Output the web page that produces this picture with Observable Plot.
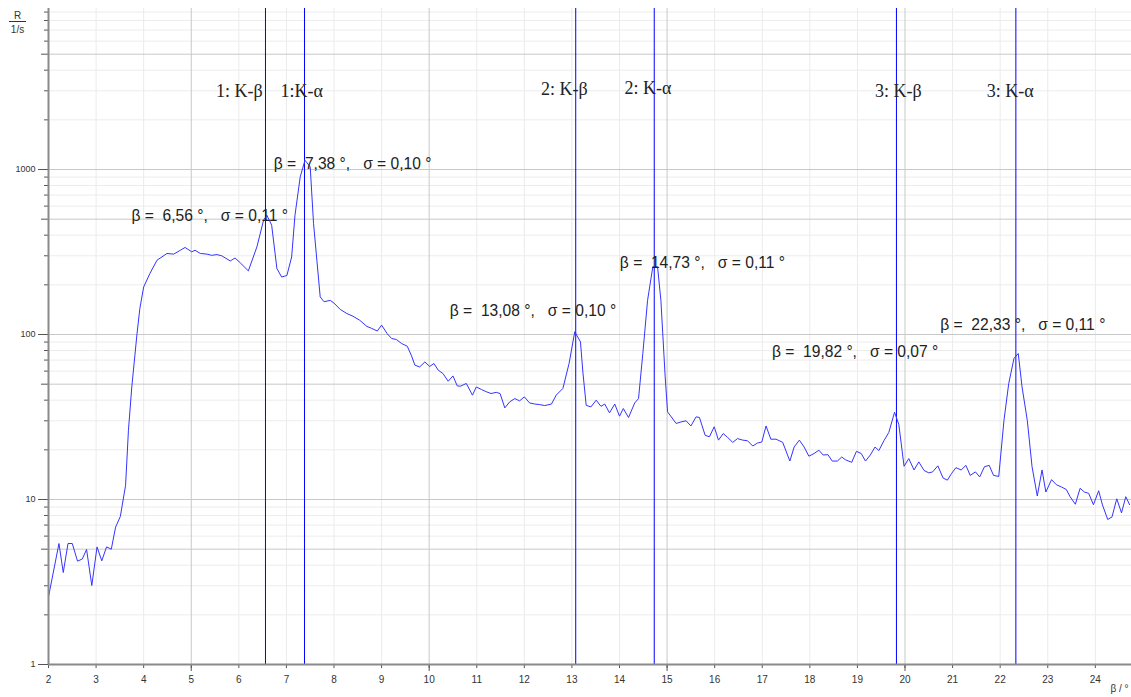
<!DOCTYPE html>
<html>
<head>
<meta charset="utf-8">
<script src="https://cdn.jsdelivr.net/npm/d3@7"></script>
<script src="https://cdn.jsdelivr.net/npm/@observablehq/plot@0.6"></script>
<style>
  html, body { margin: 0; padding: 0; background: #fff; }
  #chart svg { display: block; }
</style>
</head>
<body>
<div id="chart"></div>
<script>
// Measured spectrum: glancing angle β (°) and counting rate R (1/s)
const betaDeg = [2.00, 2.22, 2.31, 2.41, 2.50, 2.61, 2.71, 2.80, 2.91, 3.02, 3.12, 3.22, 3.32, 3.41, 3.51, 3.62,
  3.68, 3.75, 3.86, 3.92, 4.00, 4.13, 4.28, 4.49, 4.63, 4.77, 4.87, 5.01, 5.08, 5.19, 5.33, 5.43, 5.54, 5.64,
  5.82, 5.92, 6.03, 6.20, 6.38, 6.52, 6.59, 6.69, 6.80, 6.90, 7.01, 7.11, 7.18, 7.29, 7.39, 7.50, 7.57, 7.64,
  7.71, 7.79, 7.92, 8.00, 8.13, 8.27, 8.40, 8.54, 8.69, 8.79, 8.91, 9.00, 9.12, 9.21, 9.31, 9.42, 9.54, 9.63,
  9.70, 9.80, 9.91, 10.01, 10.10, 10.19, 10.29, 10.40, 10.50, 10.59, 10.66, 10.78, 10.91, 10.99, 11.10, 11.20,
  11.30, 11.41, 11.49, 11.59, 11.69, 11.80, 11.90, 12.00, 12.11, 12.22, 12.32, 12.43, 12.57, 12.67, 12.81, 12.94,
  13.06, 13.18, 13.23, 13.30, 13.40, 13.51, 13.61, 13.69, 13.79, 13.90, 14.00, 14.08, 14.19, 14.32, 14.40, 14.49,
  14.59, 14.70, 14.80, 14.87, 14.96, 15.01, 15.19, 15.29, 15.40, 15.50, 15.61, 15.68, 15.80, 15.89, 15.99, 16.08,
  16.18, 16.27, 16.38, 16.48, 16.59, 16.69, 16.80, 16.90, 16.99, 17.08, 17.18, 17.29, 17.43, 17.58, 17.67, 17.78,
  17.88, 17.98, 18.09, 18.19, 18.28, 18.38, 18.47, 18.58, 18.67, 18.75, 18.88, 18.98, 19.08, 19.17, 19.27, 19.37,
  19.45, 19.56, 19.66, 19.78, 19.87, 19.98, 20.08, 20.19, 20.29, 20.40, 20.50, 20.58, 20.69, 20.80, 20.89, 20.98,
  21.07, 21.18, 21.28, 21.37, 21.48, 21.57, 21.67, 21.77, 21.86, 21.97, 22.08, 22.18, 22.29, 22.38, 22.46, 22.57,
  22.67, 22.78, 22.88, 22.96, 23.08, 23.18, 23.29, 23.39, 23.47, 23.58, 23.68, 23.77, 23.86, 23.96, 24.07, 24.15,
  24.26, 24.35, 24.45, 24.55, 24.64, 24.72];
const rate = [2.57, 5.41, 3.61, 5.41, 5.41, 4.23, 4.36, 4.98, 3.01, 5.16, 4.25, 5.16, 5.0, 6.8, 7.9, 12.2,
  26.3, 48, 101, 144, 194, 234, 282, 310, 307, 324, 337, 317, 324, 310, 307, 302, 305, 300,
  279, 291, 272, 243, 340, 493, 528, 460, 251, 223, 228, 295, 528, 902, 1138, 1037, 471, 282,
  169, 158, 161, 155, 142, 134, 129, 122, 112, 109, 105, 114, 101, 94.6, 93.3, 88.2, 84.9, 74.2,
  65.2, 63.6, 68.2, 64, 66.7, 60.8, 58, 52.1, 56.1, 48.8, 48.6, 50.5, 42.9, 48.1, 46.4, 45,
  43.9, 44.6, 43.9, 35.9, 39, 40.9, 39.6, 41.9, 38.5, 37.9, 37.6, 37.1, 37.9, 42.9, 47.1, 66.7,
  104, 90.2, 59.3, 37.2, 36.4, 40, 36.7, 37.9, 33.5, 37.9, 32, 35.6, 31.4, 38.5, 40.9, 76.7,
  161, 257, 257, 161, 55.3, 34, 28.9, 29.5, 30, 27.9, 31.7, 31.4, 24.5, 24, 27.6, 22.9,
  25.1, 23.8, 22.2, 23.4, 22.9, 22.7, 21.1, 22, 22.3, 27.9, 23.2, 23.2, 22.2, 17.1, 20.8, 22.9,
  20.8, 18.3, 19, 19.9, 18.6, 18.7, 17.1, 17.1, 18.1, 17.4, 16.8, 19.6, 19, 17.1, 18.6, 20.8,
  19.8, 22.8, 25.5, 33.8, 28.5, 15.9, 17.7, 15.1, 16.9, 15, 14.5, 14.7, 16, 13.5, 13.1, 14.4,
  15.6, 15.1, 16.1, 14, 14.7, 13.7, 15.8, 16.1, 14, 13.8, 30.2, 50.5, 71.6, 76.7, 48.1, 30.2,
  15.8, 10.5, 15.1, 11.1, 13.2, 12.3, 11.9, 11.5, 10.4, 9.36, 11.7, 11.1, 10.9, 9.3, 11.3, 9.27,
  7.57, 7.84, 10.1, 8.3, 10.4, 9.3];

// Fitted peaks
const peakBeta = [6.56, 7.38, 13.08, 14.73, 19.82, 22.33];
const peakSigma = [0.11, 0.10, 0.10, 0.11, 0.07, 0.11];
const annotBeta = [3.744, 6.735, 10.434, 14.007, 17.204, 20.74];
const annotRate = [521, 1087, 139, 272, 78.5, 114];

// Line labels
const lineLabels = ["1: K-β", "1:K-α", "2: K-β", "2: K-α", "3: K-β", "3: K-α"];
const lineLabelBeta = [6.01, 7.32, 12.84, 14.60, 19.86, 22.21];
const lineLabelRate = [2980, 2980, 3045, 3130, 2990, 2990];

// Ticks / grid
const xTicks = [2, 3, 4, 5, 6, 7, 8, 9, 10, 11, 12, 13, 14, 15, 16, 17, 18, 19, 20, 21, 22, 23, 24];
const xMajor = [5, 10, 15, 20];
const yTickLabels = [1, 10, 100, 1000];
const yHalf = [5, 50, 500, 5000];
const yMinor = [2, 3, 4, 6, 7, 8, 9, 20, 30, 40, 60, 70, 80, 90, 200, 300, 400, 600, 700, 800, 900,
  2000, 3000, 4000, 6000, 7000, 8000, 9000];

const nb = "\u00A0";
const fmt = v => v.toFixed(2).replace(".", ",");
const peaks = peakBeta.map((b, i) => ({
  x: annotBeta[i], y: annotRate[i],
  text: `β =${nb}${nb}${fmt(b)}${nb}°,${nb}${nb}${nb}σ${nb}=${nb}${fmt(peakSigma[i])}${nb}°`
}));
const labels = lineLabels.map((t, i) => ({ t, x: lineLabelBeta[i], y: lineLabelRate[i] }));
const series = betaDeg.map((b, i) => ({ b, r: rate[i] }));

const chart = Plot.plot({
  width: 1131,
  height: 697,
  marginLeft: 48,
  marginRight: 0,
  marginTop: 8,
  marginBottom: 33,
  style: { fontFamily: "Liberation Sans, Arial, sans-serif", background: "#fff", color: "#333" },
  x: { domain: [2, 24.76] },
  y: { type: "log", domain: [1, 9460] },
  marks: [
    // grid
    Plot.ruleX(xTicks.filter(d => !xMajor.includes(d)), { stroke: "#ebebeb" }),
    Plot.ruleY(yMinor, { stroke: "#ececec" }),
    Plot.ruleX(xMajor, { stroke: "#c8c8c8" }),
    Plot.ruleY(yHalf.concat([10, 100, 1000]), { stroke: "#c8c8c8" }),
    // axes
    Plot.axisX(xTicks, { tickSize: 4, tickPadding: 7, fontSize: 10, stroke: "#555", fill: "#333", label: null, tickFormat: d => String(d) }),
    Plot.axisX(xMajor, { tickSize: 7, stroke: "#555", label: null, tickFormat: () => "" }),
    Plot.axisY(yTickLabels, { tickSize: 10, tickPadding: 3, fontSize: 9, stroke: "#555", fill: "#333", label: null, tickFormat: d => String(d) }),
    Plot.axisY(yHalf, { tickSize: 7, stroke: "#555", label: null, tickFormat: () => "" }),
    Plot.axisY(yMinor, { tickSize: 4, stroke: "#555", label: null, tickFormat: () => "" }),
    // peak positions
    Plot.ruleX(peakBeta, { stroke: "#0000ff", strokeWidth: 1 }),
    // spectrum
    Plot.line(series, { x: "b", y: "r", stroke: "#3434ff", strokeWidth: 1 }),
    // axis frame lines
    Plot.ruleX([2], { stroke: "#8a8a8a", strokeWidth: 2 }),
    Plot.ruleY([1], { stroke: "#8a8a8a", strokeWidth: 2 }),
    // annotations
    Plot.text(peaks, { x: "x", y: "y", text: "text", textAnchor: "start", fontSize: 15.6, fill: "#222" }),
    Plot.text(labels, { x: "x", y: "y", text: "t", textAnchor: "middle", fontSize: 18,
      fontFamily: "Liberation Serif, DejaVu Serif, serif", fill: "#222" }),
    // axis titles
    Plot.text(["β / °"], { frameAnchor: "bottom-right", dx: -3, dy: 27, textAnchor: "end", fontSize: 10, fill: "#333" }),
    Plot.text(["R"], { frameAnchor: "top-left", dx: -31, dy: 7, lineAnchor: "middle", textAnchor: "middle", fontSize: 10, fill: "#333" }),
    Plot.text(["1/s"], { frameAnchor: "top-left", dx: -31, dy: 21, lineAnchor: "middle", textAnchor: "middle", fontSize: 10, fill: "#333" })
  ]
});

// fraction bar of the y-axis unit label
d3.select(chart).append("line")
  .attr("x1", 9).attr("x2", 26).attr("y1", 21.5).attr("y2", 21.5)
  .attr("stroke", "#333").attr("stroke-width", 1);

document.getElementById("chart").appendChild(chart);
</script>
</body>
</html>
